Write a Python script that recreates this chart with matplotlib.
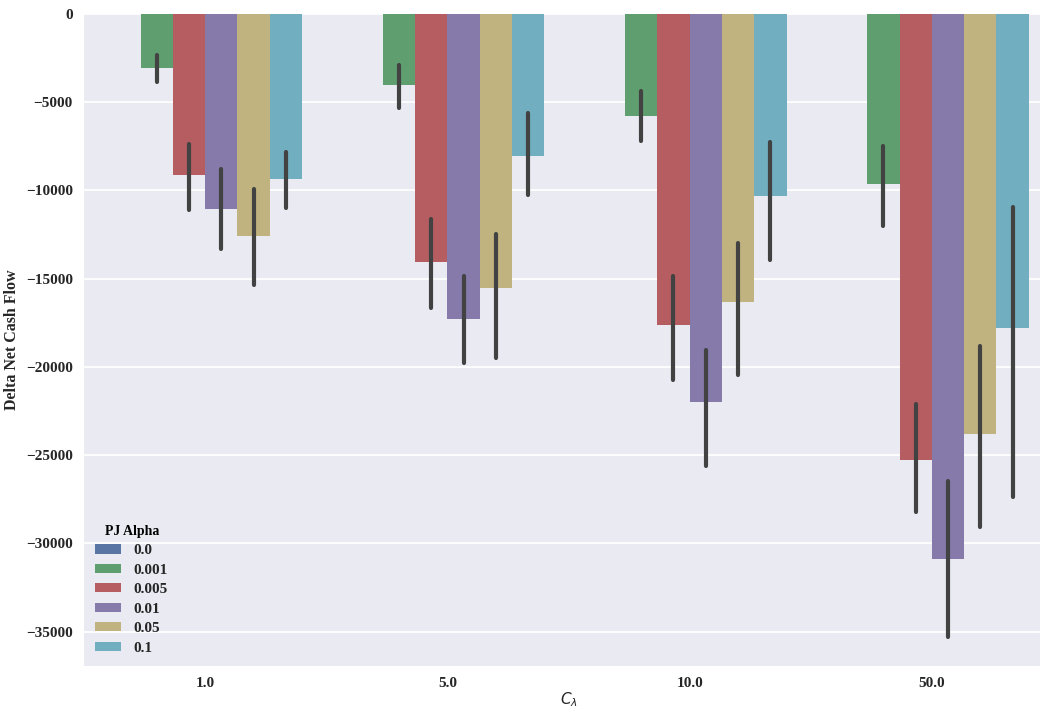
import colorsys
import matplotlib
matplotlib.use("Agg")
import matplotlib.pyplot as plt
import matplotlib.colors as mcolors
import numpy as np

# Cost multiplier groups and PJ alpha levels
c_lambda = ["1.0", "5.0", "10.0", "50.0"]
pj_alpha = ["0.0", "0.001", "0.005", "0.01", "0.05", "0.1"]

# Mean delta net cash flow per alpha level (one value per C_lambda group)
mean_a0000 = [0, 0, 0, 0]
mean_a0001 = [-3060, -4045, -5760, -9640]
mean_a0005 = [-9130, -14060, -17630, -25290]
mean_a0010 = [-11060, -17310, -22000, -30860]
mean_a0050 = [-12590, -15550, -16330, -23780]
mean_a0100 = [-9360, -8030, -10300, -17790]

# Confidence interval bounds (upper, lower)
ci_hi_a0001 = [-2320, -2890, -4350, -7470]
ci_lo_a0001 = [-3860, -5350, -7180, -12020]
ci_hi_a0005 = [-7370, -11620, -14820, -22110]
ci_lo_a0005 = [-11110, -16670, -20750, -28220]
ci_hi_a0010 = [-8790, -14860, -19050, -26460]
ci_lo_a0010 = [-13340, -19770, -25630, -35310]
ci_hi_a0050 = [-9940, -12490, -13000, -18810]
ci_lo_a0050 = [-15350, -19470, -20470, -29070]
ci_hi_a0100 = [-7810, -5630, -7240, -10960]
ci_lo_a0100 = [-11020, -10260, -13950, -27370]

means = [mean_a0000, mean_a0001, mean_a0005, mean_a0010, mean_a0050, mean_a0100]
ci_hi = [None, ci_hi_a0001, ci_hi_a0005, ci_hi_a0010, ci_hi_a0050, ci_hi_a0100]
ci_lo = [None, ci_lo_a0001, ci_lo_a0005, ci_lo_a0010, ci_lo_a0050, ci_lo_a0100]

base_colors = ["#4C72B0", "#55A868", "#C44E52", "#8172B2", "#CCB974", "#64B5CD"]


def desaturate(color, prop=0.75):
    r, g, b = mcolors.to_rgb(color)
    h, l, s = colorsys.rgb_to_hls(r, g, b)
    return colorsys.hls_to_rgb(h, l, s * prop)


colors = [desaturate(c) for c in base_colors]

serif_bold = {"family": "Liberation Serif", "weight": "bold"}

fig = plt.figure(figsize=(10.40, 7.09), dpi=100)
ax = fig.add_axes([84 / 1040, 43 / 709, 969 / 1040, 652 / 709])
ax.set_facecolor("#EAEAF2")
for sp in ax.spines.values():
    sp.set_visible(False)
ax.grid(True, axis="y", color="white", linewidth=1.3)
ax.set_axisbelow(True)

n_hue = len(pj_alpha)
width = 0.8 / n_hue
x = np.arange(len(c_lambda))
for i, label in enumerate(pj_alpha):
    offs = x - 0.4 + width * (i + 0.5)
    ax.bar(offs, means[i], width=width, color=colors[i], label=label,
           linewidth=0, zorder=2)
    if ci_hi[i] is not None:
        for xo, hi, lo in zip(offs, ci_hi[i], ci_lo[i]):
            ax.plot([xo, xo], [hi, lo], color="#424242", linewidth=3.0,
                    solid_capstyle="round", zorder=3)

ax.set_xlim(-0.5, len(c_lambda) - 0.5)
ax.set_ylim(-36950, 0)
ax.set_yticks(np.arange(-35000, 1, 5000))
ax.set_xticks(x)
ax.set_xticklabels(c_lambda)
ax.tick_params(axis="both", length=0, pad=8, colors="#262626")
for lab in ax.get_xticklabels() + ax.get_yticklabels():
    lab.set_fontfamily("Liberation Serif")
    lab.set_fontweight("bold")
    lab.set_fontsize(11)

ax.set_ylabel("Delta Net Cash Flow", fontsize=11.5, color="#262626",
              labelpad=4, **serif_bold)
ax.set_xlabel(r"$C_\lambda$", fontsize=11, color="#262626", labelpad=0)

leg = ax.legend(title="PJ Alpha", loc="lower left", frameon=False,
                prop={"family": "Liberation Serif", "weight": "bold", "size": 11},
                handlelength=1.7, handleheight=0.55, handletextpad=0.8,
                labelspacing=0.42, borderaxespad=0.35)
leg.get_title().set_fontfamily("Liberation Serif")
leg.get_title().set_fontweight("bold")
leg.get_title().set_fontsize(10)
for t in leg.get_texts():
    t.set_color("#262626")

fig.savefig("out.png", dpi=100)
